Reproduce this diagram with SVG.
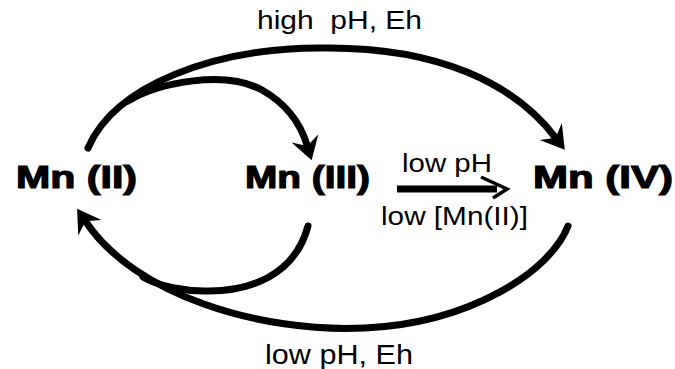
<svg xmlns="http://www.w3.org/2000/svg" width="675" height="369" viewBox="0 0 675 369">
<style>
.bg{fill:#fff}
.arc{fill:none;stroke:#000;stroke-width:7;stroke-linecap:round}
.lbl{font-family:"Liberation Sans",Arial,sans-serif;font-size:25px;fill:#000;white-space:pre}
.node{font-family:"Liberation Sans",Arial,sans-serif;font-size:32px;font-weight:bold;fill:#000;stroke:#000;stroke-width:1.2}
</style>
<defs>
<marker id="ah" markerUnits="userSpaceOnUse" orient="auto" refX="0" refY="0" markerWidth="40" markerHeight="40" overflow="visible">
<path d="M16,0 L-7,-14 L1,0 L-7,14 Z" fill="#000"/>
</marker>
</defs>
<rect class="bg" x="0" y="0" width="675" height="369"/>
<g id="connectors">
<path id="c-top-outer" class="arc" d="M88,148 C115,85 215,48 320,48 C440,46 515,85 555,137" marker-end="url(#ah)"/>
<path id="c-top-inner" class="arc" d="M128,101 C160,82 225,70 262,90 C285,103 300,122 307,145" marker-end="url(#ah)"/>
<path id="c-bot-outer" class="arc" d="M568,226 C550,272 470,323 365,328 C260,333 135,295 86,222" marker-end="url(#ah)"/>
<path id="c-bot-inner" class="arc" d="M308,226 C295,275 250,292 205,291 C185,291 160,287 143,277"/>
<g id="c-mid">
<path d="M397,189 L497,189" fill="none" stroke="#000" stroke-width="7"/>
<path d="M481,177 L507,189 L493,198" fill="none" stroke="#000" stroke-width="3.5" stroke-linejoin="miter"/>
</g>
</g>
<g id="labels">
<text class="lbl" x="257" y="29" textLength="165" lengthAdjust="spacingAndGlyphs" xml:space="preserve">high  pH, Eh</text>
<text class="lbl" x="402" y="172" textLength="90" lengthAdjust="spacingAndGlyphs">low pH</text>
<text class="lbl" x="381" y="225" textLength="147" lengthAdjust="spacingAndGlyphs">low [Mn(II)]</text>
<text class="lbl" x="265" y="364" style="font-size:28px" textLength="148" lengthAdjust="spacingAndGlyphs">low pH, Eh</text>
</g>
<g id="n-mn2"><text class="node" x="16" y="188" textLength="121" lengthAdjust="spacingAndGlyphs">Mn (II)</text></g>
<g id="n-mn3"><text class="node" x="245" y="188" textLength="125" lengthAdjust="spacingAndGlyphs">Mn (III)</text></g>
<g id="n-mn4"><text class="node" x="533" y="188" textLength="140" lengthAdjust="spacingAndGlyphs">Mn (IV)</text></g>
</svg>
